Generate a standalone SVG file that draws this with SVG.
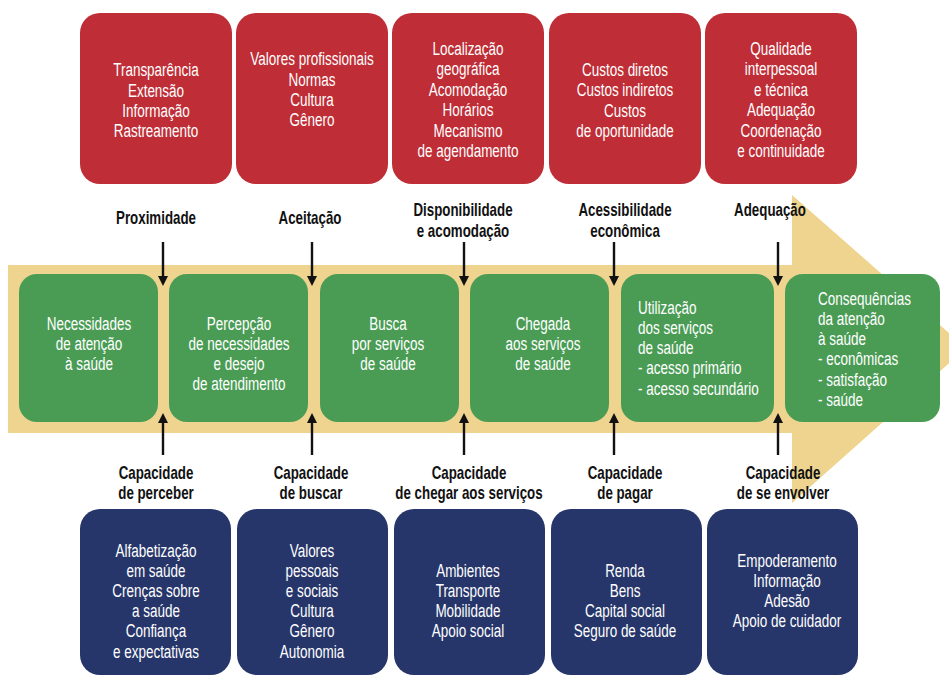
<svg xmlns="http://www.w3.org/2000/svg" width="949" height="675" viewBox="0 0 949 675">
<style>
.red{fill:#BF2D36}
.grn{fill:#4A9C55}
.blu{fill:#27366A}
.t{font-family:"Liberation Sans",Arial,sans-serif;font-size:19px;fill:#fff;text-anchor:middle}
.tl{font-family:"Liberation Sans",Arial,sans-serif;font-size:19px;fill:#fff;text-anchor:start}
.lb{font-family:"Liberation Sans",Arial,sans-serif;font-size:18px;font-weight:bold;fill:#111;text-anchor:middle}
.arr{stroke:#111;stroke-width:2.4;fill:none;marker-end:url(#ah)}
</style>
<defs>
<marker id="ah" viewBox="0 0 10 10" refX="5" refY="5" markerWidth="10" markerHeight="11" markerUnits="userSpaceOnUse" orient="auto">
<path d="M0,0 L10,5 L0,10 z" fill="#111"/>
</marker>
</defs>
<rect width="949" height="675" fill="#fff"/>
<g id="band">
<path d="M8,265 L792,265 L792,195 L966,348 L792,503 L792,433 L8,433 z" fill="#EED48E"/>
</g>

<g id="t1"><rect class="red" x="80" y="13" width="152" height="171" rx="20"/>
<text class="t" transform="translate(156,0) scale(0.71,1)"><tspan x="0" y="76">Transparência</tspan><tspan x="0" y="97">Extensão</tspan><tspan x="0" y="117">Informação</tspan><tspan x="0" y="137">Rastreamento</tspan></text></g>
<g id="t2"><rect class="red" x="236" y="13" width="152" height="171" rx="20"/>
<text class="t" transform="translate(312,0) scale(0.71,1)"><tspan x="0" y="65">Valores profissionais</tspan><tspan x="0" y="86">Normas</tspan><tspan x="0" y="106">Cultura</tspan><tspan x="0" y="126">Gênero</tspan></text></g>
<g id="t3"><rect class="red" x="392" y="13" width="152" height="171" rx="20"/>
<text class="t" transform="translate(468,0) scale(0.71,1)"><tspan x="0" y="55">Localização</tspan><tspan x="0" y="75">geográfica</tspan><tspan x="0" y="96">Acomodação</tspan><tspan x="0" y="116">Horários</tspan><tspan x="0" y="137">Mecanismo</tspan><tspan x="0" y="157">de agendamento</tspan></text></g>
<g id="t4"><rect class="red" x="549" y="13" width="152" height="171" rx="20"/>
<text class="t" transform="translate(625,0) scale(0.71,1)"><tspan x="0" y="76">Custos diretos</tspan><tspan x="0" y="96">Custos indiretos</tspan><tspan x="0" y="117">Custos</tspan><tspan x="0" y="137">de oportunidade</tspan></text></g>
<g id="t5"><rect class="red" x="705" y="13" width="152" height="171" rx="20"/>
<text class="t" transform="translate(781,0) scale(0.71,1)"><tspan x="0" y="55">Qualidade</tspan><tspan x="0" y="75">interpessoal</tspan><tspan x="0" y="96">e técnica</tspan><tspan x="0" y="116">Adequação</tspan><tspan x="0" y="137">Coordenação</tspan><tspan x="0" y="157">e continuidade</tspan></text></g>

<g id="g1"><rect class="grn" x="19" y="274" width="139" height="148" rx="18"/>
<text class="t" transform="translate(89,0) scale(0.71,1)"><tspan x="0" y="330">Necessidades</tspan><tspan x="0" y="350">de atenção</tspan><tspan x="0" y="370">à saúde</tspan></text></g>
<g id="g2"><rect class="grn" x="169" y="274" width="139" height="148" rx="18"/>
<text class="t" transform="translate(239,0) scale(0.71,1)"><tspan x="0" y="330">Percepção</tspan><tspan x="0" y="350">de necessidades</tspan><tspan x="0" y="370">e desejo</tspan><tspan x="0" y="390">de atendimento</tspan></text></g>
<g id="g3"><rect class="grn" x="320" y="274" width="139" height="148" rx="18"/>
<text class="t" transform="translate(388,0) scale(0.71,1)"><tspan x="0" y="330">Busca</tspan><tspan x="0" y="350">por serviços</tspan><tspan x="0" y="370">de saúde</tspan></text></g>
<g id="g4"><rect class="grn" x="470" y="274" width="139" height="148" rx="18"/>
<text class="t" transform="translate(543,0) scale(0.71,1)"><tspan x="0" y="330">Chegada</tspan><tspan x="0" y="350">aos serviços</tspan><tspan x="0" y="370">de saúde</tspan></text></g>
<g id="g5"><rect class="grn" x="621" y="274" width="153" height="148" rx="18"/>
<text class="tl" transform="translate(638,0) scale(0.71,1)"><tspan x="0" y="314">Utilização</tspan><tspan x="0" y="334">dos serviços</tspan><tspan x="0" y="354">de saúde</tspan><tspan x="0" y="374">- acesso primário</tspan><tspan x="0" y="395">- acesso secundário</tspan></text></g>
<g id="g6"><rect class="grn" x="785" y="274" width="155" height="148" rx="18"/>
<text class="tl" transform="translate(818,0) scale(0.71,1)"><tspan x="0" y="305">Consequências</tspan><tspan x="0" y="325">da atenção</tspan><tspan x="0" y="345">à saúde</tspan><tspan x="0" y="365">- econômicas</tspan><tspan x="0" y="386">- satisfação</tspan><tspan x="0" y="406">- saúde</tspan></text></g>

<g id="b1"><rect class="blu" x="80" y="509" width="151" height="166" rx="20"/>
<text class="t" transform="translate(156,0) scale(0.71,1)"><tspan x="0" y="557">Alfabetização</tspan><tspan x="0" y="577">em saúde</tspan><tspan x="0" y="597">Crenças sobre</tspan><tspan x="0" y="617">a saúde</tspan><tspan x="0" y="637">Confiança</tspan><tspan x="0" y="658">e expectativas</tspan></text></g>
<g id="b2"><rect class="blu" x="237" y="509" width="151" height="166" rx="20"/>
<text class="t" transform="translate(312,0) scale(0.71,1)"><tspan x="0" y="557">Valores</tspan><tspan x="0" y="577">pessoais</tspan><tspan x="0" y="597">e sociais</tspan><tspan x="0" y="617">Cultura</tspan><tspan x="0" y="637">Gênero</tspan><tspan x="0" y="658">Autonomia</tspan></text></g>
<g id="b3"><rect class="blu" x="394" y="509" width="151" height="166" rx="20"/>
<text class="t" transform="translate(468,0) scale(0.71,1)"><tspan x="0" y="577">Ambientes</tspan><tspan x="0" y="597">Transporte</tspan><tspan x="0" y="617">Mobilidade</tspan><tspan x="0" y="637">Apoio social</tspan></text></g>
<g id="b4"><rect class="blu" x="551" y="509" width="151" height="166" rx="20"/>
<text class="t" transform="translate(625,0) scale(0.71,1)"><tspan x="0" y="577">Renda</tspan><tspan x="0" y="597">Bens</tspan><tspan x="0" y="617">Capital social</tspan><tspan x="0" y="637">Seguro de saúde</tspan></text></g>
<g id="b5"><rect class="blu" x="707" y="509" width="151" height="166" rx="20"/>
<text class="t" transform="translate(787,0) scale(0.71,1)"><tspan x="0" y="567">Empoderamento</tspan><tspan x="0" y="587">Informação</tspan><tspan x="0" y="607">Adesão</tspan><tspan x="0" y="627">Apoio de cuidador</tspan></text></g>

<g id="labels-top">
<text class="lb" transform="translate(156,0) scale(0.74,1)"><tspan x="0" y="224">Proximidade</tspan></text>
<text class="lb" transform="translate(310,0) scale(0.74,1)"><tspan x="0" y="224">Aceitação</tspan></text>
<text class="lb" transform="translate(463,0) scale(0.74,1)"><tspan x="0" y="216">Disponibilidade</tspan><tspan x="0" y="237">e acomodação</tspan></text>
<text class="lb" transform="translate(625,0) scale(0.74,1)"><tspan x="0" y="216">Acessibilidade</tspan><tspan x="0" y="237">econômica</tspan></text>
<text class="lb" transform="translate(770,0) scale(0.74,1)"><tspan x="0" y="216">Adequação</tspan></text>
</g>
<g id="labels-bottom">
<text class="lb" transform="translate(156,0) scale(0.74,1)"><tspan x="0" y="479">Capacidade</tspan><tspan x="0" y="499">de perceber</tspan></text>
<text class="lb" transform="translate(311,0) scale(0.74,1)"><tspan x="0" y="479">Capacidade</tspan><tspan x="0" y="499">de buscar</tspan></text>
<text class="lb" transform="translate(469,0) scale(0.74,1)"><tspan x="0" y="479">Capacidade</tspan><tspan x="0" y="499">de chegar aos serviços</tspan></text>
<text class="lb" transform="translate(625,0) scale(0.74,1)"><tspan x="0" y="479">Capacidade</tspan><tspan x="0" y="499">de pagar</tspan></text>
<text class="lb" transform="translate(783,0) scale(0.74,1)"><tspan x="0" y="479">Capacidade</tspan><tspan x="0" y="499">de se envolver</tspan></text>
</g>

<g id="connectors">
<line class="arr" x1="163" y1="242" x2="163" y2="281"/>
<line class="arr" x1="312" y1="242" x2="312" y2="281"/>
<line class="arr" x1="464" y1="242" x2="464" y2="281"/>
<line class="arr" x1="614" y1="242" x2="614" y2="281"/>
<line class="arr" x1="778" y1="242" x2="778" y2="281"/>
<line class="arr" x1="163" y1="455" x2="163" y2="418"/>
<line class="arr" x1="312" y1="455" x2="312" y2="418"/>
<line class="arr" x1="464" y1="455" x2="464" y2="418"/>
<line class="arr" x1="614" y1="455" x2="614" y2="418"/>
<line class="arr" x1="778" y1="455" x2="778" y2="418"/>
</g>
</svg>
